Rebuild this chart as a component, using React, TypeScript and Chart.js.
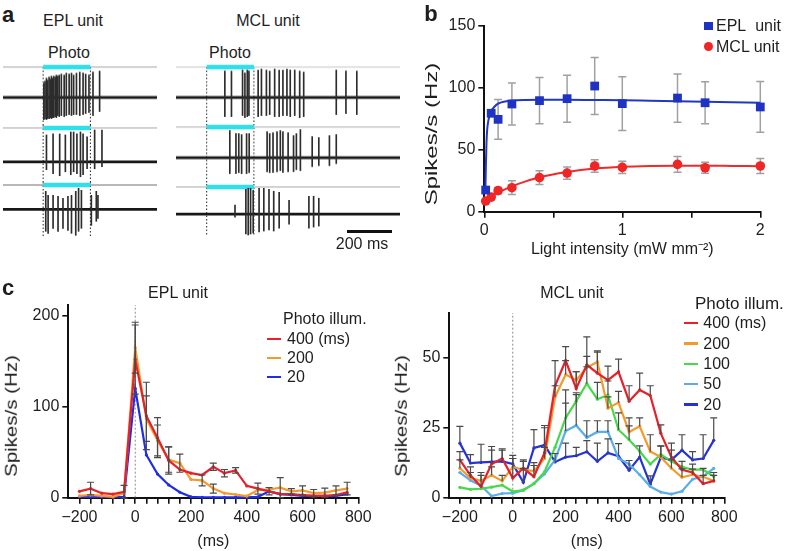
import React, { useEffect, useRef } from 'react';
import { Chart, registerables } from 'chart.js';
Chart.register(...registerables);

const FONT = "'Liberation Sans', Arial, Helvetica, sans-serif";
const TXT = '#1e1e1e';

// ---------------- Panel a (spike traces) ----------------
const PHOTO_MS = 200;
const EPL_T_RANGE = [-170, 482];
const MCL_T_RANGE = [-130, 819];

const eplR1Times = [3, 8, 14, 19, 25, 30, 35, 40, 45, 51, 56, 62, 68, 77, 89, 98, 110, 120, 129, 141, 155, 169, 180, 194, 211, 239];
const eplR1Up = [14, 16, 19, 17, 20, 18, 21, 19, 21, 20, 22, 21, 22, 23, 22, 24, 23, 24, 22, 24, 25, 24, 23, 22, 25, 26];
const eplR1Down = [22, 21, 22, 21, 21, 20, 21, 20, 20, 19, 20, 18, 19, 18, 19, 18, 17, 18, 17, 17, 18, 17, 16, 15, 18, 14];

const eplR2Times = [14, 42, 70, 94, 117, 129, 143, 158, 169, 186, 218, 249];
const eplR2Up = [27, 28, 28, 27, 30, 30, 28, 30, 28, 25, 32, 32];
const eplR2Down = [8, 12, 14, 10, 13, 10, 12, 15, 13, 7, 7, 5];

const eplR3Times = [11, 21, 42, 63, 84, 105, 120, 138, 150, 162, 204, 225, 232];
const eplR3Up = [18, 14, 14, 13, 11, 13, 14, 18, 21, 19, 14, 18, 14];
const eplR3Down = [22, 24, 19, 22, 19, 21, 24, 26, 22, 19, 16, 12, 9];

const mclR1Times = [77, 105, 152, 162, 172, 179, 218, 232, 253, 267, 288, 307, 323, 340, 354, 373, 394, 411, 549, 590, 636];
const mclR1Up = [26, 26, 27, 24, 27, 26, 27, 28, 27, 26, 28, 27, 27, 28, 27, 27, 26, 25, 27, 26, 26];
const mclR1Down = [19, 19, 18, 20, 19, 18, 19, 18, 18, 17, 19, 19, 18, 18, 19, 18, 20, 19, 17, 16, 17];

const mclR2Times = [98, 124, 136, 148, 169, 180, 256, 267, 281, 298, 312, 323, 345, 368, 380, 397, 447, 475, 520, 549];
const mclR2Up = [27, 24, 24, 23, 24, 24, 26, 24, 25, 26, 27, 26, 25, 22, 24, 28, 21, 20, 22, 23];
const mclR2Down = [16, 16, 15, 16, 16, 15, 14, 15, 15, 14, 13, 15, 14, 14, 12, 13, 9, 8, 8, 6];

const mclR3Times = [120, 166, 176, 186, 197, 222, 242, 264, 284, 307, 349, 433, 453, 475];
const mclR3Up = [9, 25, 26, 26, 24, 26, 26, 25, 23, 22, 14, 18, 18, 16];
const mclR3Down = [3, 20, 21, 20, 19, 18, 17, 16, 17, 14, 10, 14, 13, 12];

// ---------------- Panel b ----------------
const intensity = [0.01, 0.05, 0.1, 0.2, 0.4, 0.6, 0.8, 1.0, 1.4, 1.6, 2.0];
const eplRate = [17.5, 79.5, 74.6, 87, 89.7, 91.3, 101.5, 87.3, 91.8, 88, 84.6];
const eplRateErr = [0, 0, 16, 17, 18.6, 19, 23, 21.7, 19.5, 17, 20.5];
const mclRate = [8.6, 11.8, 17, 19.4, 27.5, 31.2, 36.9, 35.8, 38.2, 35.5, 36.9];
const mclRateErr = [0, 2, 2.5, 5.5, 5.5, 5, 5, 5, 6.4, 4.5, 6];
const eplFitX = [0.008, 0.012, 0.016, 0.02, 0.03, 0.05, 0.075, 0.1, 0.15, 0.2, 0.3, 0.4, 0.6, 0.8, 1.0, 1.2, 1.4, 1.6, 1.8, 2.0];
const eplFitY = [17.5, 40, 56, 65, 74, 81, 85, 87.3, 89, 89.8, 90.3, 90.4, 90.4, 90.2, 90, 89.6, 89.2, 88.8, 88.4, 88];
const mclFitX = [0, 0.05, 0.1, 0.2, 0.3, 0.4, 0.6, 0.8, 1.0, 1.2, 1.4, 1.6, 1.8, 2.0];
const mclFitY = [8, 12, 15.5, 20.5, 24.5, 27.8, 32, 34.8, 36.3, 37, 37.2, 37.2, 37, 36.8];
const bXTicks = [0, 0.5, 1, 1.5, 2];
const bYTicks = [0, 50, 100, 150];

// ---------------- Panel c ----------------
const timeBins = [-200, -160, -120, -80, -40, 0, 40, 80, 120, 160, 200, 240, 280, 320, 360, 400, 440, 480, 520, 560, 600, 640, 680, 720, 760];
const cXTicks = [-200, -160, -120, -80, -40, 0, 40, 80, 120, 160, 200, 240, 280, 320, 360, 400, 440, 480, 520, 560, 600, 640, 680, 720, 760, 800];

const epl400 = [7, 10, 5, 4, 6.5, 152, 90, 66, 41, 31, 27, 25, 34, 27, 30, 13, 10, 7, 4, 4, 3, 2, 2, 3, 6];
const epl400Err = [0, 7, 0, 0, 7, 38, 37, 22, 15, 0, 0, 0, 4, 4, 3, 0, 6, 4, 0, 0, 0, 0, 0, 0, 0];
const epl200 = [2, 3, 2, 1, 5, 165, 87, 63, 42, 38, 20, 19, 10, 5, 3.5, 1.8, 8.5, 9, 11, 7, 8, 5, 5.5, 8, 10];
const epl200Err = [0, 0, 0, 0, 0, 28, 25, 17, 14, 10, 0, 6, 5, 0, 0, 0, 0, 0, 11, 3, 5, 4, 5, 5, 7];
const epl20 = [1, 1, 1, 0.5, 1, 120, 47, 26, 14, 6, 1, 0.5, 0.5, 0.3, 0.3, 0.3, 1, 7, 4, 3, 2, 2, 2, 2, 4];
const eplCYTicks = [0, 100, 200];

const mcl400 = [13.5, 8, 4, 12, 14, 7, 10.5, 7.5, 16, 40, 49, 39, 47.5, 44.5, 42, 45, 34.5, 38.5, 36.5, 23, 14.5, 10, 9, 5, 6];
const mcl400Err = [3, 3, 4, 5, 3, 7, 3, 4, 9, 9, 5, 6, 10, 8, 5, 4.5, 5.5, 6, 3.5, 3, 5, 3, 3, 3, 2];
const mcl200 = [10.5, 7, 6, 8, 6, 11, 10, 9.5, 14, 36, 44, 42, 46.5, 48.5, 32, 34, 23.5, 25.5, 16.5, 14.5, 10.5, 7.3, 8.2, 7.5, 6];
const mcl200Err = [3, 2, 3, 3, 2, 3, 3, 3, 4, 4, 5, 3, 4, 3.5, 4, 4, 5, 3, 6, 4, 3, 3, 2, 3, 3];
const mcl100 = [3.7, 3, 3.2, 3.8, 4.5, 2.2, 2.7, 5, 9.2, 18, 28.5, 34.5, 40.8, 35.2, 36.7, 24.3, 20.7, 16.6, 12, 15.5, 13, 11, 10, 10, 7.6];
const mcl100Err = [0, 0, 0, 0, 0, 0, 0, 0, 0, 0, 10, 3, 6, 6, 5, 6, 5, 0, 0, 0, 0, 0, 0, 0, 0];
const mcl50 = [9, 6.2, 4.3, 0.6, 1.5, 1.6, 2.7, 5, 8.5, 13.5, 23.8, 25.8, 21.5, 23.5, 23.5, 14, 12, 8.2, 4, 2, 1.3, 2.3, 6.6, 7.6, 10.5];
const mcl50Err = [0, 0, 0, 0, 0, 0, 0, 0, 0, 0, 10, 11, 6, 4, 4, 0, 0, 0, 0, 0, 0, 0, 0, 0, 0];
const mcl20 = [19.5, 12.4, 12.6, 12.8, 13, 12.1, 5.5, 17.8, 18.8, 12.8, 14.5, 15, 16.4, 13, 16, 14.8, 9.8, 14.5, 4.8, 14.4, 13.5, 17, 13.5, 14, 20.5];
const mcl20Err = [6, 3, 6.5, 5.5, 4.5, 3, 5, 6.5, 7, 3, 5, 3, 4, 6.5, 5, 4.5, 3.5, 4, 3, 4, 3.5, 5.5, 3, 8.5, 8];
const mclCYTicks = [0, 25, 50];

// ---------------- helpers ----------------
const errorBarPlugin = {
  id: 'errbars',
  beforeDatasetsDraw(chart: any, _a: any, opts: any) {
    if (opts && opts.when === 'before') drawErr(chart);
  },
  afterDatasetsDraw(chart: any, _a: any, opts: any) {
    if (!opts || opts.when !== 'before') drawErr(chart);
  },
};
function drawErr(chart: any) {
  const ctx = chart.ctx;
  const xs = chart.scales.x;
  const ys = chart.scales.y;
  chart.data.datasets.forEach((ds: any) => {
    if (!ds.errUp) return;
    const cap = ds.errCap || 3.5;
    ds.data.forEach((p: any, i: number) => {
      const up = ds.errUp[i] || 0;
      const dn = ds.errDown ? ds.errDown[i] || 0 : 0;
      if (!up && !dn) return;
      const px = xs.getPixelForValue(p.x);
      const yT = ys.getPixelForValue(p.y + up);
      const yB = ys.getPixelForValue(p.y - dn);
      ctx.save();
      ctx.strokeStyle = ds.errColor || '#555';
      ctx.lineWidth = ds.errWidth || 1.3;
      ctx.beginPath();
      ctx.moveTo(px, yT);
      ctx.lineTo(px, yB);
      if (up) { ctx.moveTo(px - cap, yT); ctx.lineTo(px + cap, yT); }
      if (dn) { ctx.moveTo(px - cap, yB); ctx.lineTo(px + cap, yB); }
      ctx.stroke();
      ctx.restore();
    });
  });
}

const toXY = (xs: number[], ys: number[]) => xs.map((x, i) => ({ x, y: ys[i] }));
const tickObjs = (arr: number[]) => arr.map((v) => ({ value: v }));
const fmtMinus = (v: number) => String(v).replace('-', '\u2212');

function ChartBox({ x, y, w, h, make }: { x: number; y: number; w: number; h: number; make: () => any }) {
  const ref = useRef<HTMLCanvasElement>(null);
  useEffect(() => {
    const c = new Chart(ref.current as HTMLCanvasElement, make());
    return () => c.destroy();
  }, []);
  return (
    <div style={{ position: 'absolute', left: x, top: y, width: w, height: h }}>
      <canvas ref={ref} width={w} height={h} style={{ width: w, height: h, display: 'block' }} />
    </div>
  );
}

function Label({ x, y, text, size = 16, bold = false, anchor = 'center', rot = false, sx = 1 }: any) {
  let tf = anchor === 'left' ? 'translate(0,-50%)' : 'translate(-50%,-50%)';
  if (rot) tf += ` rotate(-90deg) scaleX(${sx})`;
  return (
    <div
      style={{
        position: 'absolute', left: x, top: y, transform: tf, whiteSpace: 'nowrap',
        fontFamily: FONT, fontSize: size, fontWeight: bold ? 700 : 400, color: TXT, lineHeight: 1.15,
      }}
    >
      {text}
    </div>
  );
}

// ---------------- trace chart (panel a) ----------------
function traceConfig(times: number[], up: number[], down: number[], range: number[], geo: any) {
  const max = geo.base - geo.top;
  const min = geo.base - geo.bottom;
  const gray = geo.base - geo.gray;
  const dotTop = geo.first ? gray : max;
  const line = (data: any[], color: string, width: number, dash: number[] = []) => ({
    type: 'line', data, borderColor: color, borderWidth: width, pointRadius: 0, borderDash: dash, fill: false,
  });
  return {
    type: 'bar',
    data: {
      datasets: [
        {
          type: 'bar',
          data: times.map((t, i) => ({ x: t, y: [-down[i], up[i]] })),
          backgroundColor: '#2c2c2c', barThickness: 1, borderWidth: 0,
        },
        line([{ x: range[0], y: 0 }, { x: range[1], y: 0 }], '#181818', 2.8),
        line([{ x: 0, y: gray }, { x: PHOTO_MS, y: gray }], '#2fe0ea', 4.5),
        line([{ x: range[0], y: gray }, { x: range[1], y: gray }], geo.grayColor, 1),
        line([{ x: 0, y: dotTop }, { x: 0, y: min }], '#222', 1, [1.5, 2]),
        line([{ x: PHOTO_MS, y: dotTop }, { x: PHOTO_MS, y: min }], '#222', 1, [1.5, 2]),
      ],
    },
    options: {
      responsive: false, animation: false,
      layout: { padding: 0 },
      plugins: { legend: { display: false }, tooltip: { enabled: false } },
      scales: {
        x: { type: 'linear', min: range[0], max: range[1], display: false, offset: false },
        y: { type: 'linear', min, max, display: false },
      },
    },
  };
}

// ---------------- panel b ----------------
function panelBConfig() {
  const axisCommon = {
    grid: { display: true, drawOnChartArea: false, drawTicks: true, tickLength: 6, color: '#111', lineWidth: 1.6 },
    border: { display: true, color: '#111', width: 2 },
  };
  return {
    type: 'scatter',
    data: {
      datasets: [
        {
          data: toXY(intensity, eplRate), pointStyle: 'rect', pointRadius: 6.2,
          backgroundColor: '#1f33c2', borderColor: '#1f33c2', borderWidth: 0, showLine: false, clip: false,
          errUp: eplRateErr, errDown: eplRateErr, errColor: '#a0a0a0', errWidth: 1.5, errCap: 4,
        },
        {
          data: toXY(intensity, mclRate), pointStyle: 'circle', pointRadius: 4.8,
          backgroundColor: '#ee2626', borderColor: '#ee2626', borderWidth: 0, showLine: false, clip: false,
          errUp: mclRateErr, errDown: mclRateErr, errColor: '#a0a0a0', errWidth: 1.5, errCap: 4,
        },
        {
          data: toXY(eplFitX, eplFitY), showLine: true, pointRadius: 0, borderColor: '#2236c8', borderWidth: 2,
          cubicInterpolationMode: 'monotone', clip: false,
        },
        {
          data: toXY(mclFitX, mclFitY), showLine: true, pointRadius: 0, borderColor: '#ee2a2a', borderWidth: 2,
          cubicInterpolationMode: 'monotone', clip: false,
        },
      ],
    },
    plugins: [errorBarPlugin],
    options: {
      responsive: false, animation: false,
      layout: { padding: { left: 0, right: 27.7, top: 26, bottom: 0 } },
      plugins: { legend: { display: false }, tooltip: { enabled: false }, errbars: { when: 'before' } },
      scales: {
        x: {
          type: 'linear', min: 0, max: 2,
          afterBuildTicks: (s: any) => { s.ticks = tickObjs(bXTicks); },
          ticks: {
            callback: (v: number) => (Number.isInteger(v) ? String(v) : ''),
            font: { family: FONT, size: 16 }, color: TXT, padding: 3, autoSkip: false, maxRotation: 0,
          },
          title: {
            display: true, text: 'Light intensity (mW mm\u207B\u00B2)', font: { family: FONT, size: 16 }, color: TXT,
            padding: { top: 0, bottom: 11 },
          },
          afterFit: (s: any) => { s.height = 58.3; },
          ...axisCommon,
        },
        y: {
          type: 'linear', min: 0, max: 150,
          afterBuildTicks: (s: any) => { s.ticks = tickObjs(bYTicks); },
          ticks: { font: { family: FONT, size: 16 }, color: TXT, padding: 3 },
          afterFit: (s: any) => { s.width = 104.3; },
          ...axisCommon,
        },
      },
    },
  };
}

// ---------------- panel c ----------------
function seriesDs(vals: number[], color: string, err?: number[], sym = false) {
  const d: any = {
    type: 'line', data: toXY(timeBins, vals), borderColor: color, backgroundColor: color, borderWidth: 2.2,
    pointRadius: 1.6, pointBorderWidth: 0, tension: 0, clip: false,
  };
  if (err) {
    d.errUp = err;
    if (sym) d.errDown = err;
    d.errColor = '#4a4a4a';
    d.errWidth = 1.2;
    d.errCap = 3.5;
  }
  return d;
}

function panelCConfig(datasets: any[], yMax: number, yTicks: number[], padRight: number, padTop: number, yWidth: number) {
  const axisCommon = {
    grid: { display: true, drawOnChartArea: false, drawTicks: true, tickLength: 6, color: '#111', lineWidth: 1.6 },
    border: { display: true, color: '#111', width: 2 },
  };
  return {
    type: 'line',
    data: {
      datasets: [
        ...datasets,
        {
          type: 'line', data: [{ x: 0, y: 0 }, { x: 0, y: yMax }], borderColor: '#8a8a8a', borderWidth: 1,
          borderDash: [2, 2], pointRadius: 0,
        },
      ],
    },
    plugins: [errorBarPlugin],
    options: {
      responsive: false, animation: false,
      layout: { padding: { left: 0, right: padRight, top: padTop, bottom: 0 } },
      plugins: { legend: { display: false }, tooltip: { enabled: false }, errbars: { when: 'after' } },
      scales: {
        x: {
          type: 'linear', min: -240, max: 800,
          afterBuildTicks: (s: any) => { s.ticks = tickObjs(cXTicks); },
          ticks: {
            callback: (v: number) => (v % 200 === 0 ? fmtMinus(v) : ''),
            font: { family: FONT, size: 16 }, color: TXT, padding: 4, autoSkip: false, maxRotation: 0,
          },
          title: { display: true, text: '(ms)', font: { family: FONT, size: 16 }, color: TXT, padding: { top: 0, bottom: 0 } },
          afterFit: (s: any) => { s.height = 53.3; },
          ...axisCommon,
        },
        y: {
          type: 'linear', min: 0, max: yMax,
          afterBuildTicks: (s: any) => { s.ticks = tickObjs(yTicks); },
          ticks: { font: { family: FONT, size: 16 }, color: TXT, padding: 3 },
          afterFit: (s: any) => { s.width = yWidth; },
          ...axisCommon,
        },
      },
    },
  };
}

const LegendLine = ({ x, y, color }: any) => (
  <div style={{ position: 'absolute', left: x, top: y - 1.2, width: 14, height: 2.4, background: color }} />
);

export default function App() {
  const eplRows = [
    { times: eplR1Times, up: eplR1Up, down: eplR1Down, geo: { top: 64.3, bottom: 124.7, base: 97.3, gray: 67.3, first: true, grayColor: '#a8a8a8' } },
    { times: eplR2Times, up: eplR2Up, down: eplR2Down, geo: { top: 124.7, bottom: 182, base: 161.7, gray: 127.7, first: false, grayColor: '#a8a8a8' } },
    { times: eplR3Times, up: eplR3Up, down: eplR3Down, geo: { top: 182, bottom: 238, base: 209.3, gray: 185, first: false, grayColor: '#707070' } },
  ];
  const mclRows = [
    { times: mclR1Times, up: mclR1Up, down: mclR1Down, geo: { top: 64.3, bottom: 123.7, base: 97.3, gray: 67.3, first: true, grayColor: '#c8c8c8' } },
    { times: mclR2Times, up: mclR2Up, down: mclR2Down, geo: { top: 123.7, bottom: 183.7, base: 157.3, gray: 126.7, first: false, grayColor: '#b0b0b0' } },
    { times: mclR3Times, up: mclR3Up, down: mclR3Down, geo: { top: 183.7, bottom: 236, base: 214, gray: 186.7, first: false, grayColor: '#a8a8a8' } },
  ];

  return (
    <div style={{ position: 'fixed', left: 0, top: 0, width: 788, height: 551, background: '#fff', overflow: 'hidden' }}>
      {/* Panel a */}
      {eplRows.map((r, i) => (
        <ChartBox key={'e' + i} x={3} y={r.geo.top} w={154} h={r.geo.bottom - r.geo.top}
          make={() => traceConfig(r.times, r.up, r.down, EPL_T_RANGE, r.geo)} />
      ))}
      {mclRows.map((r, i) => (
        <ChartBox key={'m' + i} x={176} y={r.geo.top} w={224} h={r.geo.bottom - r.geo.top}
          make={() => traceConfig(r.times, r.up, r.down, MCL_T_RANGE, r.geo)} />
      ))}
      <Label x={8} y={15} text="a" size={22} bold />
      <Label x={73} y={21} text="EPL unit" />
      <Label x={268} y={21} text="MCL unit" />
      <Label x={69} y={53} text="Photo" />
      <Label x={230} y={53} text="Photo" />
      <div style={{ position: 'absolute', left: 347, top: 230, width: 45, height: 3, background: '#111' }} />
      <Label x={362} y={244} text="200 ms" />

      {/* Panel b */}
      <ChartBox x={380} y={0} w={408} h={270} make={panelBConfig} />
      <Label x={431} y={14} text="b" size={22} bold />
      <Label x={431.5} y={134} text="Spikes/s (Hz)" rot sx={1.5} />
      <div style={{ position: 'absolute', left: 704, top: 21.5, width: 8.5, height: 8.5, background: '#1f33c2' }} />
      <Label x={716} y={25.7} text={'EPL\u00A0\u00A0unit'} anchor="left" />
      <div style={{ position: 'absolute', left: 703.5, top: 41.5, width: 9.5, height: 9.5, borderRadius: '50%', background: '#ee2626' }} />
      <Label x={716} y={46.5} text="MCL unit" anchor="left" />

      {/* Panel c */}
      <ChartBox x={0} y={280} w={380} h={271}
        make={() => panelCConfig([
          seriesDs(epl400, '#e8202a', epl400Err, true),
          seriesDs(epl200, '#f39a2c', epl200Err, true),
          seriesDs(epl20, '#1d2ee6'),
        ], 212, eplCYTicks, 21.7, 25, 68.3)} />
      <ChartBox x={380} y={280} w={408} h={271}
        make={() => panelCConfig([
          seriesDs(mcl400, '#e8202a', mcl400Err),
          seriesDs(mcl200, '#f39a2c', mcl200Err),
          seriesDs(mcl100, '#48d94a', mcl100Err),
          seriesDs(mcl50, '#5aaee8', mcl50Err),
          seriesDs(mcl20, '#2433d6', mcl20Err),
        ], 66, mclCYTicks, 63.7, 33, 69.3)} />
      <Label x={8} y={288} text="c" size={22} bold />
      <Label x={178} y={293} text="EPL unit" />
      <Label x={572} y={293} text="MCL unit" />
      <Label x={12} y={416} text="Spikes/s (Hz)" rot sx={1.28} />
      <Label x={402} y={416} text="Spikes/s (Hz)" rot sx={1.28} />

      <Label x={283} y={318.5} text="Photo illum." anchor="left" />
      <LegendLine x={267} y={339} color="#e8202a" />
      <Label x={287} y={339} text="400 (ms)" anchor="left" />
      <LegendLine x={267} y={358} color="#f39a2c" />
      <Label x={287} y={358} text="200" anchor="left" />
      <LegendLine x={267} y={377} color="#1d2ee6" />
      <Label x={287} y={377} text="20" anchor="left" />

      <Label x={695} y={303.5} text="Photo illum." size={17} anchor="left" />
      <LegendLine x={683.5} y={323.3} color="#e8202a" />
      <Label x={703.3} y={323.3} text="400 (ms)" anchor="left" />
      <LegendLine x={683.5} y={343.6} color="#f39a2c" />
      <Label x={703.3} y={343.6} text="200" anchor="left" />
      <LegendLine x={683.5} y={364} color="#48d94a" />
      <Label x={703.3} y={364} text="100" anchor="left" />
      <LegendLine x={683.5} y={384.3} color="#5aaee8" />
      <Label x={703.3} y={384.3} text="50" anchor="left" />
      <LegendLine x={683.5} y={404.5} color="#2433d6" />
      <Label x={703.3} y={404.5} text="20" anchor="left" />
    </div>
  );
}
